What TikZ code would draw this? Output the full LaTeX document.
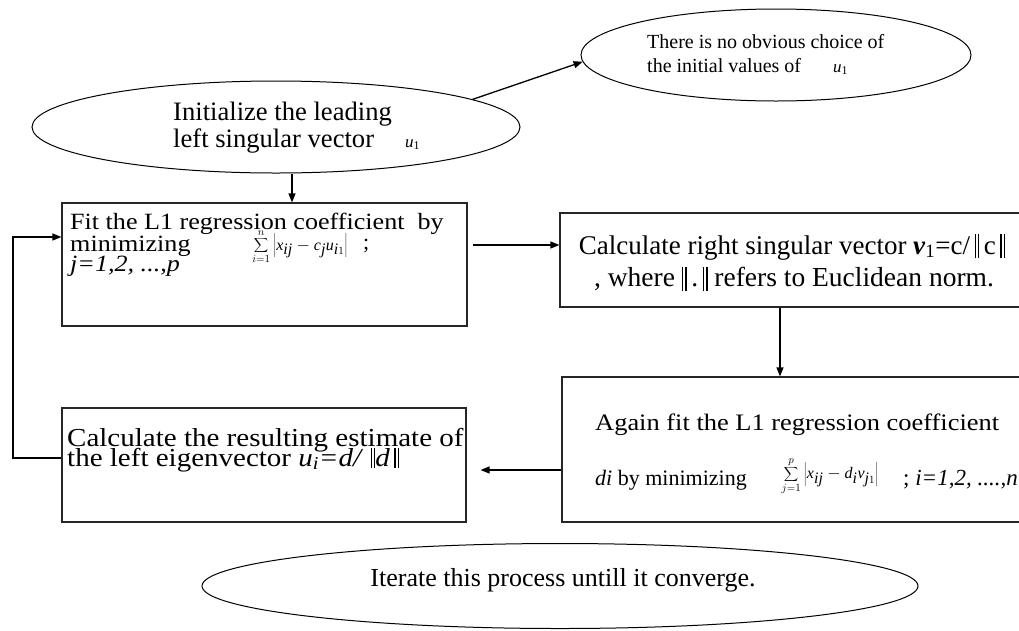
\documentclass[tikz,border=0pt]{standalone}
\usepackage{fontspec}
\setmainfont{Liberation Serif}
\newfontfamily\widefont[FakeStretch=1.12]{Liberation Serif}
\usetikzlibrary{arrows.meta,shapes.geometric}
% double bar used for the norm signs: #1 depth, #2 total height
\newcommand\dbar[2]{\rule[-#1]{1.3pt}{#2}\hspace{2.2pt}\rule[-#1]{1.3pt}{#2}}
\newcommand\fs[1]{\fontsize{#1}{#1}\selectfont}
\newcommand\wfs[1]{\widefont\fontsize{#1}{#1}\selectfont}

\begin{document}
\begin{tikzpicture}[x=1pt,y=-1pt,
  frame/.style={draw=black!85, line width=1.2pt, rectangle, inner sep=0pt},
  oval/.style={draw, line width=1pt, ellipse, inner sep=0pt},
  arr/.style={line width=1.3pt, -{Triangle[length=9pt,width=7pt]}},
  txt/.style={anchor=base west, inner sep=0pt},
  ctxt/.style={anchor=base, inner sep=0pt}]

\useasboundingbox (0,0) rectangle (1019,630);
\clip (0,0) rectangle (1019,630);

% shapes
\node[oval, minimum width=488pt, minimum height=92pt] (e1) at (276,127) {};
\node[oval, minimum width=390pt, minimum height=92pt] (e2) at (776,55) {};
\node[oval, minimum width=716pt, minimum height=85pt] (e3) at (560,586) {};

\node[frame, minimum width=405pt, minimum height=123pt] (b1) at (264.5,264.5) {};
\node[frame, minimum width=470pt, minimum height=94pt] (b2) at (795,260) {};
\node[frame, minimum width=468pt, minimum height=145pt] (b3) at (796,449.5) {};
\node[frame, minimum width=404pt, minimum height=114pt] (b4) at (264,465) {};

% texts of the start oval
\node[txt, font=\fs{26.6}] (t1a) at (173,120) {Initialize the leading};
\node[txt, font=\fs{26.6}] (t1b) at (173,147) {left singular vector};
\node[txt, font=\fs{17}] (t1u) at (405,147) {\textit{u}\textsubscript{1}};

% remark oval
\node[txt, font=\fs{20}] (t2a) at (647,48) {There is no obvious choice of};
\node[txt, font=\fs{20}] (t2b) at (647,72) {the initial values of};
\node[txt, font=\fs{17}] (t2u) at (833,72) {\textit{u}\textsubscript{1}};

% first regression step
\node[txt, font=\wfs{23.3}] (t3a) at (70,229) {Fit the L1 regression coefficient\ \ by};
\node[txt, font=\wfs{23.3}] (t3b) at (70,251) {minimizing};
\node[txt, font=\wfs{23.3}] (t3c) at (70,271) {\textit{j=1,2, ...,p}};
\node[inner sep=0pt, font=\fs{16}] (f1) at (300,247)
  {$\displaystyle\sum_{i=1}^{n}\left|\textit{x}_{\textit{ij}}-\textit{c}_{\textit{j}}\textit{u}_{\textit{i}1}\right|$};
\node[txt, font=\fs{22}] (f1s) at (363,249) {;};

% right singular vector
\node[ctxt, font=\fs{27}] (t4a) at (792,254)
  {Calculate right singular vector \textbf{\textit{v}}\textsubscript{1}=c/\,\dbar{4pt}{24pt}\,c\,\dbar{4pt}{24pt}};
\node[ctxt, font=\fs{27.5}] (t4b) at (794,286)
  {, where \dbar{5pt}{24pt}\,.\,\dbar{5pt}{24pt} refers to Euclidean norm.};

% second regression step
\node[txt, font=\wfs{23.6}] (t5a) at (595,430) {Again fit the L1 regression coefficient};
\node[txt, font=\fs{22}] (t5b) at (595,485) {\textit{di} by minimizing};
\node[inner sep=0pt, font=\fs{16}] (f2) at (830,476)
  {$\displaystyle\sum_{j=1}^{p}\left|\textit{x}_{\textit{ij}}-\textit{d}_{\textit{i}}\textit{v}_{\textit{j}1}\right|$};
\node[txt, font=\fs{23}] (t5c) at (903,485) {; \textit{i=1,2, ....,n}};

% left eigenvector
\node[txt, font=\wfs{25.9}] (t6a) at (67,446) {Calculate the resulting estimate of};
\node[txt, font=\wfs{25.9}] (t6b) at (67,466)
  {the left eigenvector \textit{u\textsubscript{i}=d/} \dbar{2pt}{20pt}\textit{d}\,\dbar{2pt}{20pt}};

% closing oval
\node[ctxt, font=\fs{26}] (t7) at (563,586) {Iterate this process untill it converge.};

% helper coordinates for connector rows and columns
\coordinate (y245) at (0,245);
\coordinate (y470) at (0,470);
\coordinate (y458) at (0,458);
\coordinate (y237) at (0,237);
\coordinate (x780) at (780,0);
\coordinate (lx) at (13,0);

% connectors
\draw[arr] (e1.8) -- (e2.182);
\draw[arr] ([xshift=16pt]e1.south) -- ([xshift=16pt]e1.south |- b1.north);
\draw[arr, shorten <=5pt] (b1.east |- y245) -- (b2.west |- y245);
\draw[arr] (b2.south -| x780) -- (b3.north -| x780);
\draw[arr, shorten >=14pt] (b3.west |- y470) -- (b4.east |- y470);
\draw[arr] (b4.west |- y458) -- (lx |- y458) -- (lx |- y237) -- (b1.west |- y237);
\end{tikzpicture}
\end{document}
